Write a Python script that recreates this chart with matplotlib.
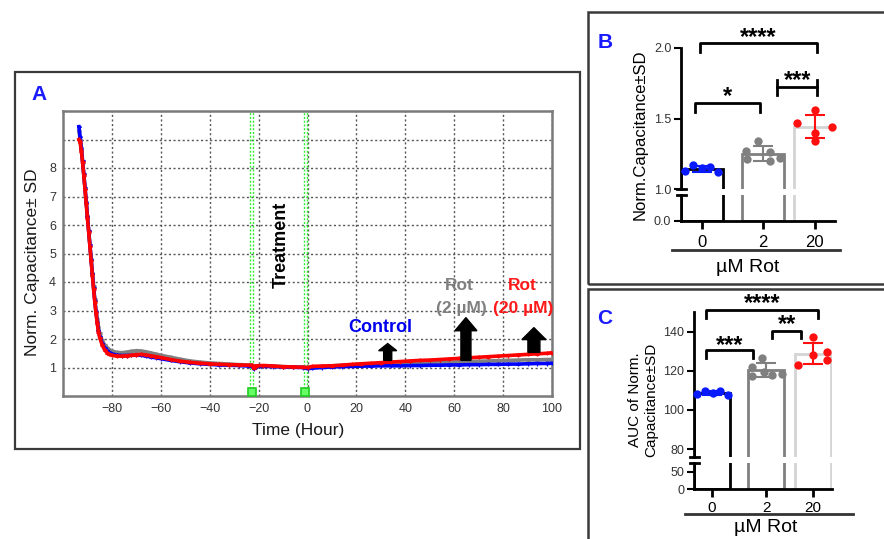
import numpy as np
import matplotlib
matplotlib.use("Agg")
import matplotlib.pyplot as plt
from matplotlib.patches import Rectangle, FancyArrow
from matplotlib.lines import Line2D

plt.rcParams['font.family'] = ['Liberation Sans', 'DejaVu Sans']

# ---------------- data: panel A (time course) ----------------
time_h = [-93.5, -93, -92.5, -92, -91.5, -91, -90.5, -90, -89.5, -89, -88.5, -88, -87.5, -87,
          -86.5, -86, -85.5, -85, -84, -83, -82, -81, -80, -78, -76, -74, -72, -70, -68, -66,
          -64, -62, -60, -56, -52, -48, -44, -40, -36, -32, -28, -24, -22.5, -22, -21, -18,
          -14, -10, -6, -2, 0, 2, 6, 10, 14, 18, 22, 26, 30, 34, 38, 42, 46, 50, 54, 58, 62,
          66, 70, 74, 78, 82, 86, 90, 94, 98, 100]
control = [9.45, 9.1, 8.7, 8.25, 7.8, 7.3, 6.8, 6.3, 5.8, 5.3, 4.8, 4.3, 3.8, 3.35, 2.95, 2.6,
           2.3, 2.1, 1.85, 1.7, 1.6, 1.53, 1.48, 1.43, 1.42, 1.42, 1.43, 1.44, 1.43, 1.4, 1.37,
           1.34, 1.31, 1.25, 1.2, 1.16, 1.13, 1.11, 1.09, 1.08, 1.07, 1.05, 1.04, 0.95, 1.03,
           1.04, 1.03, 1.02, 1.01, 1.0, 0.96,
           0.98, 1.0, 1.02, 1.03, 1.04, 1.05, 1.05, 1.06, 1.06, 1.06, 1.07, 1.07, 1.08, 1.08,
           1.09, 1.09, 1.1, 1.1, 1.11, 1.11, 1.12, 1.12, 1.13, 1.14, 1.14, 1.15]
rot_2uM = [9.3, 9.0, 8.65, 8.2, 7.75, 7.3, 6.8, 6.3, 5.8, 5.3, 4.8, 4.3, 3.85, 3.4, 3.0, 2.7,
           2.42, 2.2, 1.95, 1.8, 1.7, 1.63, 1.58, 1.53, 1.52, 1.54, 1.57, 1.59, 1.58, 1.55,
           1.51, 1.47, 1.43, 1.36, 1.29, 1.23, 1.19, 1.16, 1.14, 1.12, 1.1, 1.09, 1.08, 0.98,
           1.06, 1.06, 1.05, 1.03, 1.02, 1.01, 1.0,
           1.02, 1.04, 1.06, 1.08, 1.09, 1.1, 1.11, 1.12, 1.13, 1.14, 1.15, 1.16, 1.17, 1.18,
           1.19, 1.2, 1.21, 1.22, 1.23, 1.24, 1.25, 1.26, 1.27, 1.27, 1.28, 1.28]
rot_20uM = [9.0, 8.9, 8.6, 8.2, 7.75, 7.25, 6.75, 6.25, 5.75, 5.25, 4.75, 4.25, 3.75, 3.3, 2.9,
            2.55, 2.25, 2.05, 1.8, 1.62, 1.52, 1.46, 1.43, 1.4, 1.4, 1.41, 1.43, 1.45, 1.46,
            1.44, 1.41, 1.38, 1.35, 1.28, 1.22, 1.18, 1.15, 1.13, 1.11, 1.1, 1.09, 1.08, 1.08,
            0.97, 1.06, 1.07, 1.05, 1.03, 1.02, 1.01, 1.0,
            1.04, 1.05, 1.06, 1.08, 1.11, 1.13, 1.15, 1.17, 1.19, 1.21, 1.23, 1.25, 1.26, 1.28,
            1.3, 1.32, 1.34, 1.36, 1.38, 1.4, 1.42, 1.44, 1.46, 1.48, 1.5, 1.52]
sd_control, sd_2uM, sd_20uM = 0.02, 0.035, 0.03
x_ticks_A = [-80, -60, -40, -20, 0, 20, 40, 60, 80, 100]
y_ticks_A = [1, 2, 3, 4, 5, 6, 7, 8, 9]
y_labels_A = ['1', '2', '3', '4', '5', '6', '7', '8', '']
treatment_times = [-22.8, -1.0]

# ---------------- data: panels B and C ----------------
dose_labels = ['0', '2', '20']
B_ctrl = [1.127, 1.169, 1.148, 1.155, 1.12]
B_rot2 = [1.27, 1.34, 1.21, 1.26, 1.20, 1.22]
B_rot20 = [1.47, 1.56, 1.44, 1.40, 1.34]
C_ctrl = [108.2, 109.7, 108.5, 109.7, 107.7]
C_rot2 = [122.0, 126.5, 117.5, 119.5, 118.0, 118.5]
C_rot20 = [137.3, 123.1, 128.2, 129.4, 125.3]

# ---------------- figure helpers ----------------
W, H = 884, 539
fig = plt.figure(figsize=(W / 100, H / 100), dpi=100)


def rect(l, t, r, b):
    return [l / W, 1 - b / H, (r - l) / W, (b - t) / H]


def ftext(x, y, s, **kw):
    fig.text(x / W, 1 - y / H, s, **kw)


def fline(x1, x2, y, **kw):
    fig.add_artist(Line2D([x1 / W, x2 / W], [1 - y / H, 1 - y / H], transform=fig.transFigure, **kw))


def fbox(l, t, r, b, **kw):
    fig.add_artist(Rectangle((l / W, 1 - b / H), (r - l) / W, (b - t) / H, transform=fig.transFigure,
                             fill=False, **kw))


# ---------------- panel frames ----------------
fbox(15, 72, 580, 449, edgecolor='#3a3a3a', lw=1.6)
fbox(588, 12, 900, 284, edgecolor='#3a3a3a', lw=1.8)
fbox(588, 289, 900, 560, edgecolor='#3a3a3a', lw=1.8)

# ---------------- panel A ----------------
axA = fig.add_axes(rect(63, 111, 552, 396))
axA.set_xlim(-100, 100)
axA.set_ylim(0, 10)
axA.set_xticks(x_ticks_A)
axA.set_xticklabels([str(v).replace('-', '\u2212') for v in x_ticks_A], fontsize=9, color='#333333')
axA.set_yticks(y_ticks_A)
axA.set_yticklabels(y_labels_A, fontsize=9, color='#333333')
axA.tick_params(length=0, pad=5)
axA.grid(True, color='#555555', lw=1.0, linestyle=(0, (1.5, 1.8)))
for s in axA.spines.values():
    s.set_color('#7a7a7a')
    s.set_linewidth(1.8)

for t in treatment_times:
    for d in (-0.6, 0.6):
        axA.axvline(t + d, color='#33ee33', lw=1.0, linestyle=(0, (1.5, 1.2)), zorder=2)
axA.plot(treatment_times, [0.14, 0.14], linestyle='none', marker='s', ms=6,
         mfc='#66ff66', mec='#22cc22', mew=1.2, zorder=5, clip_on=False)

for vals, col, sd, z in ((rot_2uM, '#808080', sd_2uM, 3), (control, '#0000ff', sd_control, 4),
                         (rot_20uM, '#ff0000', sd_20uM, 5)):
    axA.errorbar(time_h, vals, yerr=sd, color=col, lw=2.6, marker='+', ms=3.5, mew=0.8,
                 elinewidth=0.8, capsize=1.5, zorder=z)

# arrows
for x0, y0, y1, w, hw, hl in ((32.8, 1.25, 1.84, 3.3, 7.4, 0.25),
                              (64.8, 1.25, 2.75, 4.1, 9.0, 0.46),
                              (92.6, 1.53, 2.40, 4.9, 9.8, 0.42)):
    axA.add_patch(FancyArrow(x0, y0, 0, y1 - y0, width=w, head_width=hw, head_length=hl,
                             length_includes_head=True, color='black', zorder=6))

ftext(39, 95, 'A', color='#1a1aff', fontsize=15, fontweight='bold', ha='center', va='center')
ftext(33, 262, 'Norm. Capacitance\u00b1 SD', rotation=90, fontsize=12.5, ha='center', va='center',
      color='#1a1a1a')
ftext(298, 431, 'Time (Hour)', fontsize=12.5, ha='center', va='center', color='#1a1a1a')
ftext(281, 245, 'Treatment', rotation=90, fontsize=13, fontweight='bold', ha='center', va='center')
ftext(380, 327, 'Control', color='#0000ee', fontsize=13, fontweight='bold', ha='center', va='center')
ftext(459, 285, 'Rot', color='#808080', fontsize=12.5, fontweight='bold', ha='center', va='center')
ftext(461, 308, '(2 \u00b5M)', color='#808080', fontsize=12.5, fontweight='bold', ha='center', va='center')
ftext(522, 285, 'Rot', color='#ff1a1a', fontsize=12.5, fontweight='bold', ha='center', va='center')
ftext(523, 308, '(20 \u00b5M)', color='#ff1a1a', fontsize=12.5, fontweight='bold', ha='center', va='center')

# ---------------- panels B and C ----------------
bar_edges = ['#000000', '#808080', '#d4d4d4']
pt_colors = ['#0a1aff', '#808080', '#ff0f0f']


def bar_panel(l, r, up_top, up_bot, lo_top, lo_bot, up_lim, lo_lim, up_ticks, up_lbls,
              lo_ticks, lo_lbls, xlim, pos, groups, offsets, xfs, xpad):
    axU = fig.add_axes(rect(l, up_top, r, up_bot))
    axL = fig.add_axes(rect(l, lo_top, r, lo_bot))
    means = [np.mean(g) for g in groups]
    sds = [np.std(g, ddof=1) for g in groups]
    for ax, lim in ((axU, up_lim), (axL, lo_lim)):
        ax.set_xlim(*xlim)
        ax.set_ylim(*lim)
        ax.patch.set_alpha(0)
        ax.spines['top'].set_visible(False)
        ax.spines['right'].set_visible(False)
        ax.spines['left'].set_linewidth(2)
        ax.spines['bottom'].set_linewidth(2)
        ax.bar(pos, means, width=0.75, color='white', edgecolor=bar_edges, linewidth=2, zorder=1)
        ax.tick_params(axis='y', length=5, width=1.5, labelsize=9, labelcolor='#333333', pad=2)
    axU.spines['bottom'].set_visible(False)
    axU.set_xticks([])
    axU.set_yticks(up_ticks)
    axU.set_yticklabels(up_lbls)
    axL.set_yticks(lo_ticks)
    axL.set_yticklabels(lo_lbls)
    axL.set_xticks(pos)
    axL.set_xticklabels(dose_labels, fontsize=xfs)
    axL.tick_params(axis='x', length=6, width=2, pad=xpad)
    d = 4.5 / (r - l)
    axU.plot([-d, d], [0, 0], transform=axU.transAxes, color='k', lw=2, clip_on=False)
    axL.plot([-d, d], [1, 1], transform=axL.transAxes, color='k', lw=2, clip_on=False)
    for p, g, off, col, m, s in zip(pos, groups, offsets, pt_colors, means, sds):
        axU.errorbar(p, m, yerr=s, color=col, capsize=7, lw=1.5, capthick=1.5, zorder=3)
        axU.scatter(p + np.array(off), g, s=36, color=col, zorder=4, clip_on=False, linewidths=0)
    return axU


def bracket(ax, x1, x2, y, ylo, text, tx, ty, yhi=None):
    if yhi is None:
        ax.plot([x1, x1, x2, x2], [ylo, y, y, ylo], color='k', lw=2, clip_on=False)
    else:
        ax.plot([x1, x2], [y, y], color='k', lw=2, clip_on=False)
        for xx in (x1, x2):
            ax.plot([xx, xx], [ylo, yhi], color='k', lw=2, clip_on=False)
    ax.text(tx, ty, text, ha='center', va='baseline', fontsize=17, fontweight='bold', clip_on=False)


# Panel B
posB = np.array([0, 1.09, 2.01])
axB = bar_panel(681, 835, 48, 189, 195, 221, (1.0, 2.0), (0, 0.8), [1.0, 1.5, 2.0],
                ['1.0', '1.5', '2.0'], [0.0], ['0.0'], (-0.375, 2.375), posB,
                [B_ctrl, B_rot2, B_rot20],
                [[-0.3, -0.16, 0, 0.14, 0.29], [-0.3, -0.09, -0.28, 0.12, 0.12, 0.3],
                 [-0.31, 0, 0.31, 0, 0]], 12, 4)
bracket(axB, -0.036, 2.05, 2.035, 1.972, '****', 1.0, 2.025)
bracket(axB, 1.34, 2.05, 1.723, 1.667, '***', 1.70, 1.72, yhi=1.773)
bracket(axB, -0.125, 1.036, 1.61, 1.546, '*', 0.45, 1.61)
fline(672, 840, 250, color='#333333', lw=2)
ftext(748, 268, '\u00b5M Rot', fontsize=14, ha='center', va='center')
ftext(640, 135, 'Norm.Capacitance\u00b1SD', rotation=90, fontsize=12, ha='center', va='center')
ftext(605, 43, 'B', color='#1a1aff', fontsize=15, fontweight='bold', ha='center', va='center')

# Panel C
posC = np.array([0, 1.135, 2.094])
axC = bar_panel(694, 832, 312, 457, 463, 489, (76, 150), (0, 76), [80, 100, 120, 140],
                ['80', '100', '120', '140'], [0, 50], ['0', '50'], (-0.375, 2.5), posC,
                [C_ctrl, C_rot2, C_rot20],
                [[-0.31, -0.15, 0.02, 0.17, 0.33], [-0.3, -0.1, -0.3, -0.05, 0.11, 0.32],
                 [0, -0.3, 0, 0.3, 0.3]], 11, 3)
bracket(axC, -0.125, 2.21, 151.0, 146.9, '****', 1.04, 150.8)
bracket(axC, -0.125, 0.854, 130.6, 126.5, '***', 0.375, 129.8)
bracket(axC, 1.25, 1.854, 140.3, 136.7, '**', 1.56, 140.5)
fline(685, 853, 514, color='#333333', lw=2)
ftext(766, 527, '\u00b5M Rot', fontsize=14, ha='center', va='center')
ftext(643, 400, 'AUC of Norm.\nCapacitance\u00b1SD', rotation=90, fontsize=11, ha='center',
      va='center', multialignment='center')
ftext(605, 318, 'C', color='#1a1aff', fontsize=15, fontweight='bold', ha='center', va='center')

fig.savefig('out.png', dpi=100)
